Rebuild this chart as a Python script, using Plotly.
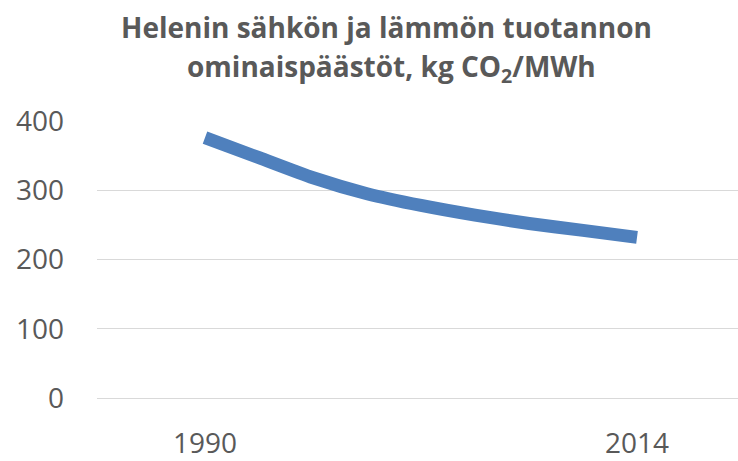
import plotly.graph_objects as go

years = [1990, 1993, 1996, 1999, 2002, 2005, 2008, 2011, 2014]
emissions = [376, 347, 318, 295, 278, 264, 252, 242, 232]
x_ticks = [1990, 2014]
y_ticks = [0, 100, 200, 300, 400]

title_line1 = "Helenin sähkön ja lämmön tuotannon"
title_line2 = "ominaispäästöt, kg CO<sub>2</sub>/MWh"

fig = go.Figure()
fig.add_trace(go.Scatter(
    x=years, y=emissions, mode="lines",
    line=dict(color="#4F80BD", width=13, shape="spline", smoothing=0.6),
    hoverinfo="skip", showlegend=False,
))

title_font = dict(family="Open Sans", size=28, color="#595959", weight="bold")
fig.add_annotation(text=title_line1, xref="paper", yref="paper", x=0.451, y=1.3404,
                   xanchor="center", yanchor="middle", showarrow=False, font=title_font)
fig.add_annotation(text=title_line2, xref="paper", yref="paper", x=0.459, y=1.1915,
                   xanchor="center", yanchor="middle", showarrow=False, font=title_font)

fig.update_layout(
    width=738, height=461,
    margin=dict(l=97, r=0, t=121, b=58),
    paper_bgcolor="white", plot_bgcolor="white",
    font=dict(family="Open Sans", color="#595959"),
    xaxis=dict(range=[1984.0, 2019.61], tickvals=x_ticks, ticktext=[str(v) for v in x_ticks],
               showgrid=False, zeroline=False, showline=False,
               tickfont=dict(size=28, color="#595959"), ticklabelstandoff=26),
    yaxis=dict(range=[0, 400], tickvals=y_ticks, showgrid=True, gridcolor="#D9D9D9", gridwidth=1,
               zeroline=True, zerolinecolor="#D9D9D9", zerolinewidth=1, showline=False,
               tickfont=dict(size=28, color="#595959"), ticklabelstandoff=32),
)

fig.write_html("out.html", config={"displayModeBar": False},
               post_script="document.body.style.margin='0';")
